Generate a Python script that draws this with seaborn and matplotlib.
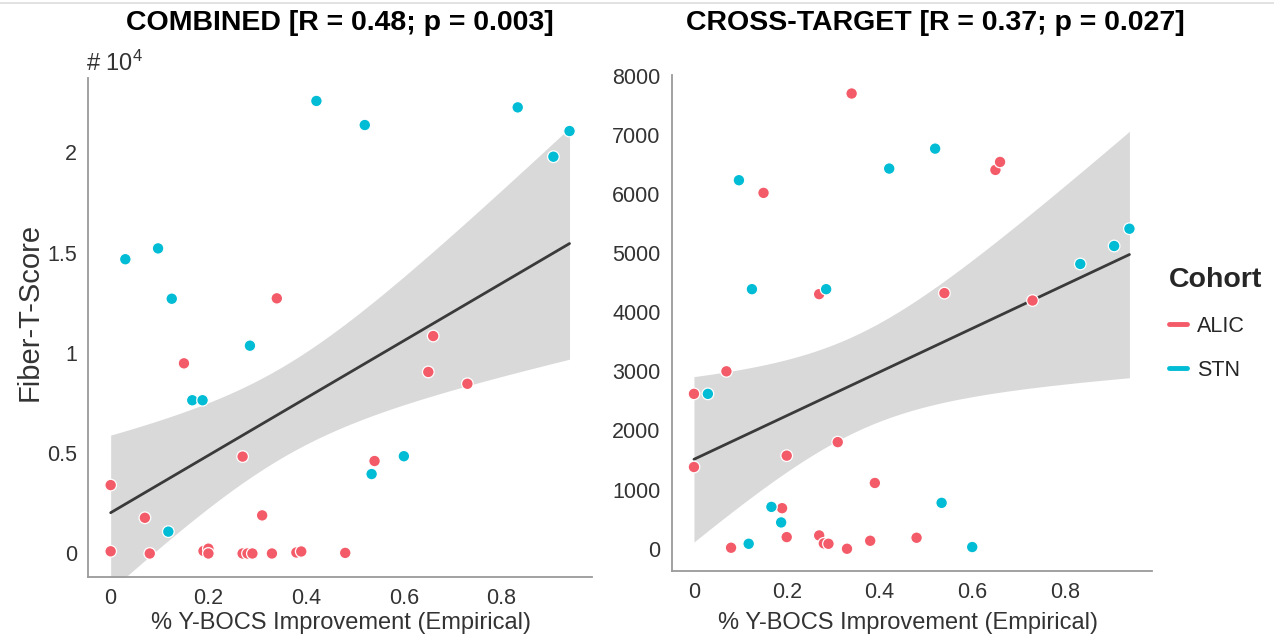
import matplotlib
matplotlib.use("Agg")
import matplotlib.pyplot as plt
import seaborn as sns
import numpy as np
import pandas as pd
from matplotlib.lines import Line2D
from matplotlib.ticker import FuncFormatter

# ---- data ----
x_alic = [0.0, 0.0, 0.070, 0.080, 0.150, 0.190, 0.200, 0.200, 0.270, 0.270, 0.280,
          0.290, 0.310, 0.330, 0.340, 0.380, 0.390, 0.480, 0.540, 0.650, 0.660, 0.730]
combined_alic = [3410, 110, 1780, 0, 9480, 125, 240, 0, 4830, 0, 0,
                 0, 1900, 0, 12720, 50, 100, 30, 4610, 9050, 10840, 8460]
cross_alic = [2619, 1382, 3000, 17, 6017, 686, 1574, 197, 4305, 225, 91,
              84, 1803, 0, 7697, 135, 1112, 186, 4322, 6405, 6540, 4197]

x_stn = [0.030, 0.097, 0.118, 0.125, 0.167, 0.188, 0.285, 0.421, 0.520, 0.534,
         0.600, 0.833, 0.906, 0.939]
combined_stn = [14670, 15210, 1090, 12700, 7640, 7640, 10360, 22560, 21360, 3960,
                4850, 22240, 19780, 21060]
cross_stn = [2619, 6231, 84, 4389, 708, 445, 4389, 6428, 6765, 776,
             29, 4815, 5119, 5411]

cohorts = ["ALIC", "STN"]
titles = ["COMBINED [R = 0.48; p = 0.003]", "CROSS-TARGET [R = 0.37; p = 0.027]"]
xlabel = "% Y-BOCS Improvement (Empirical)"
ylabel = "Fiber-T-Score"

df = pd.DataFrame({
    "x": x_alic + x_stn,
    "combined": combined_alic + combined_stn,
    "cross": cross_alic + cross_stn,
    "cohort": ["ALIC"] * len(x_alic) + ["STN"] * len(x_stn),
})

# ---- style ----
sns.set_theme(style="white")
plt.rcParams["font.family"] = ["Liberation Sans", "DejaVu Sans"]
plt.rcParams["mathtext.fontset"] = "custom"
plt.rcParams["mathtext.rm"] = "Liberation Sans"
plt.rcParams["mathtext.default"] = "regular"

palette = {"ALIC": "#F45B69", "STN": "#00BCD4"}
W, H = 1274, 636
fig = plt.figure(figsize=(W / 100, H / 100), dpi=100)

def fax(x0, y_top, x1, y_bot):
    return fig.add_axes([x0 / W, 1 - y_bot / H, (x1 - x0) / W, (y_bot - y_top) / H])

ax1 = fax(88, 78, 592, 576.7)
ax2 = fax(671.7, 75, 1151.7, 570.7)

T975 = 2.032  # Student t quantile, 34 degrees of freedom


def ols_band(x, y):
    """Analytic 95% confidence band of the OLS fit."""
    x = np.asarray(x, float)
    y = np.asarray(y, float)
    n = len(x)
    b, a = np.polyfit(x, y, 1)
    resid = y - (a + b * x)
    s = np.sqrt((resid ** 2).sum() / (n - 2))
    xg = np.linspace(x.min(), x.max(), 200)
    se = s * np.sqrt(1 / n + (xg - x.mean()) ** 2 / ((x - x.mean()) ** 2).sum())
    yg = a + b * xg
    return xg, yg - T975 * se, yg + T975 * se


for ax, col in [(ax1, "combined"), (ax2, "cross")]:
    xg, lo, hi = ols_band(df["x"], df[col])
    ax.fill_between(xg, lo, hi, color="#d9d9d9", lw=0, zorder=1)
    sns.regplot(data=df, x="x", y=col, ax=ax, scatter=False, ci=None,
                color="#3a3a3a", line_kws={"lw": 2.0, "zorder": 3})
    sns.scatterplot(data=df, x="x", y=col, hue="cohort", palette=palette, ax=ax,
                    s=70, edgecolor="white", linewidth=0.9, legend=False, zorder=4)
    ax.set_xlabel("")
    ax.set_ylabel("")
    for s in ["top", "right"]:
        ax.spines[s].set_visible(False)
    for s in ["left", "bottom"]:
        ax.spines[s].set_color("#9a9a9a")
        ax.spines[s].set_linewidth(1.3)
    ax.tick_params(direction="in", length=5, width=1, colors="#555555",
                   labelcolor="#333333", labelsize=15.5, pad=8)
    ax.set_xticks([0, 0.2, 0.4, 0.6, 0.8])
    ax.xaxis.set_major_formatter(FuncFormatter(lambda v, p: f"{v:g}"))

ax1.set_xlim(-0.0464, 0.985)
ax1.set_ylim(-1157, 23704)
ax1.set_yticks([0, 5000, 10000, 15000, 20000])
ax1.yaxis.set_major_formatter(FuncFormatter(lambda v, p: f"{v / 1e4:g}"))

ax2.set_xlim(-0.048, 0.987)
ax2.set_ylim(-371, 8010)
ax2.set_yticks(range(0, 8001, 1000))

# titles / labels
fig.text(340 / W, 1 - 23 / H, titles[0], ha="center", va="center",
         fontsize=20.5, fontweight="bold", color="black")
fig.text(935 / W, 1 - 23 / H, titles[1], ha="center", va="center",
         fontsize=20.5, fontweight="bold", color="black")
fig.text(341 / W, 1 - 623 / H, xlabel, ha="center", va="center", fontsize=17, color="#333333")
fig.text(908 / W, 1 - 623 / H, xlabel, ha="center", va="center", fontsize=17, color="#333333")
fig.text(30 / W, 1 - 312 / H, ylabel, ha="center", va="center", rotation=90,
         fontsize=21, color="#333333")
fig.text(86 / W, 1 - 63 / H, "# 10$^{4}$", ha="left", va="center", fontsize=17, color="#333333")

# top thin border line
fig.add_artist(Line2D([0, 1], [1 - 3 / H, 1 - 3 / H], color="#dddddd", lw=1.2))

# legend
handles = [Line2D([], [], color=palette[c], lw=3.5) for c in cohorts]
leg = fig.legend(handles, cohorts, title="Cohort", loc="upper left",
                 bbox_to_anchor=(1150 / W, 1 - 248 / H), frameon=False,
                 fontsize=15.5, handlelength=0.8, handletextpad=0.5, labelspacing=1.05)
leg.get_title().set_fontsize(20.5)
leg.get_title().set_fontweight("bold")
leg._legend_box.align = "left"

fig.savefig("out.png", dpi=100)
